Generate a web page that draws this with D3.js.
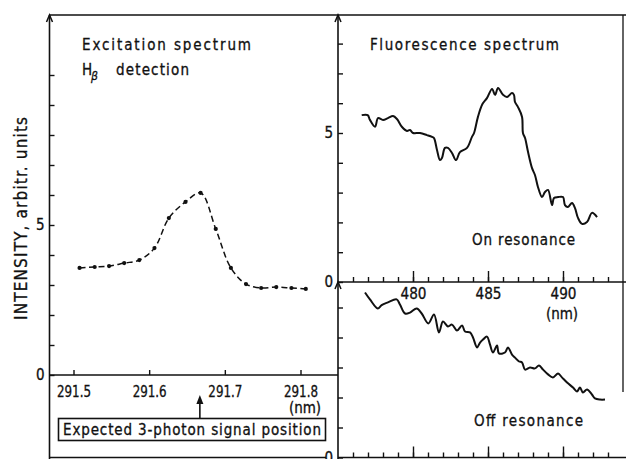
<!DOCTYPE html>
<html>
<head>
<meta charset="utf-8">
<script src="https://cdn.jsdelivr.net/npm/d3@7"></script>
<style>
  body { margin: 0; background: #fff; }
  svg { display: block; }
  text { font-family: "DejaVu Sans Condensed", "DejaVu Sans", sans-serif; fill: #111; stroke: #111; stroke-width: 0.3px; }
</style>
</head>
<body>
<div id="chart"></div>
<script>
// excitation spectrum (H-beta detection), dashed curve with dots
const excWavelength = [291.508, 291.528, 291.547, 291.567, 291.587, 291.607, 291.626, 291.648,
                       291.668, 291.688, 291.708, 291.728, 291.748, 291.768, 291.788, 291.807];
const excIntensity  = [3.57, 3.60, 3.63, 3.73, 3.83, 4.23, 5.23, 5.77,
                       6.07, 4.87, 3.57, 3.03, 2.90, 2.93, 2.90, 2.87];
const expectedPos = 291.667;
const excTicks = [291.5, 291.6, 291.7, 291.8];

// fluorescence spectrum, on resonance
const onWavelength = [476.58, 476.98, 477.13, 477.47, 477.67, 478.0, 478.33, 478.67, 478.93, 479.27,
  479.6, 479.8, 480.0, 480.47, 480.93, 481.27, 481.4, 481.6, 481.8, 481.93,
  482.13, 482.33, 482.6, 482.87, 483.13, 483.6, 483.93, 484.07, 484.33, 484.63,
  484.93, 485.27, 485.47, 485.67, 486.0, 486.27, 486.6, 486.73, 486.8, 487.0,
  487.27, 487.33, 487.47, 487.67, 487.93, 488.13, 488.33, 488.6, 488.8, 489.0,
  489.27, 489.4, 489.67, 490.0, 490.13, 490.33, 490.6, 490.8, 491.0, 491.27,
  491.6, 491.93, 492.27];
const onIntensity = [5.60, 5.60, 5.44, 5.21, 5.50, 5.44, 5.50, 5.57, 5.47, 5.20,
  5.07, 5.10, 5.00, 5.00, 4.93, 4.87, 4.83, 4.43, 4.09, 4.16,
  4.50, 4.50, 4.33, 4.09, 4.36, 4.50, 4.87, 5.00, 5.54, 5.97,
  6.17, 6.48, 6.28, 6.51, 6.28, 6.21, 6.34, 6.28, 6.04, 5.87,
  5.54, 5.00, 4.83, 4.36, 3.83, 3.59, 3.19, 2.85, 3.02, 3.09,
  2.58, 2.82, 2.85, 2.85, 2.58, 2.52, 2.65, 2.48, 2.15, 1.95,
  2.01, 2.32, 2.18];

// fluorescence spectrum, off resonance
const offWavelength = [476.8, 477.13, 477.65, 477.91, 478.33, 478.91, 479.13, 479.47, 479.8, 480.25,
  480.58, 481.02, 481.4, 481.73, 482.0, 482.33, 482.6, 482.93, 483.27, 483.47,
  483.8, 484.0, 484.27, 484.47, 484.67, 484.93, 485.13, 485.33, 485.6, 485.73,
  486.13, 486.33, 486.6, 486.8, 487.07, 487.27, 487.47, 487.8, 488.13, 488.4,
  488.67, 489.0, 489.33, 489.67, 489.93, 490.27, 490.67, 490.93, 491.13, 491.33,
  491.6, 491.93, 492.13, 492.47, 492.8];
const offIntensity = [5.50, 5.27, 4.97, 5.08, 5.17, 5.27, 5.10, 4.80, 4.83, 4.97,
  4.80, 4.47, 4.77, 4.17, 4.53, 4.37, 4.43, 4.23, 4.40, 4.20,
  4.17, 4.00, 3.67, 3.83, 3.93, 4.03, 3.77, 3.50, 3.73, 3.47,
  3.50, 3.67, 3.43, 3.33, 3.20, 3.17, 2.93, 3.00, 2.97, 3.07,
  2.93, 2.77, 2.67, 2.80, 2.67, 2.50, 2.33, 2.20, 2.33, 2.17,
  2.27, 2.10, 1.97, 1.93, 1.93];

const flMajorTicks = [480, 485, 490];
const flMinorTicks = d3.range(476, 494);

const width = 626, height = 459;
const ink = "#111";

const svg = d3.select("#chart").append("svg")
    .attr("width", width)
    .attr("height", height);
svg.append("rect").attr("width", width).attr("height", height).attr("fill", "#fff");

// scales
const xExc = d3.scaleLinear().domain([291.5, 291.8]).range([73.5, 300.5]);
const yExc = d3.scaleLinear().domain([0, 10]).range([375, 75]);
const xFl = d3.scaleLinear().domain([480, 490]).range([413, 563]);
const yOn = d3.scaleLinear().domain([0, 5]).range([282, 133]);
const yOff = d3.scaleLinear().domain([0, 5]).range([457.5, 307.5]);

// frame lines
function rule(x1, y1, x2, y2, w) {
    svg.append("line")
        .attr("x1", x1).attr("y1", y1).attr("x2", x2).attr("y2", y2)
        .attr("stroke", ink).attr("stroke-width", w || 1.6);
}
rule(49.5, 15, 626, 15);
rule(49.5, 15, 49.5, 459);
rule(49.5, 375, 338, 375);
rule(49.5, 457.5, 326, 457.5);
rule(338, 15, 338, 459);
rule(338, 282, 626, 282);
rule(338, 457.5, 626, 457.5);
rule(623, 15, 623, 392, 1.3);

// open arrow heads on the intensity axes
function caret(x, y) {
    svg.append("path")
        .attr("d", `M${x - 3},${y + 7}L${x},${y}L${x + 3},${y + 7}`)
        .attr("fill", "none").attr("stroke", ink).attr("stroke-width", 1.5);
}
caret(49.5, 15);
caret(338, 15);
caret(338, 282);

// axes
function styleAxis(g) {
    g.select(".domain").remove();
    g.selectAll(".tick line").attr("stroke", ink).attr("stroke-width", 1.4);
    g.selectAll(".tick text").attr("fill", ink).style("font-size", "15px").style("font-family", null);
}
const onlyLabel = vals => d => vals.includes(d) ? d : "";

svg.append("g").attr("transform", "translate(49.5,0)")
    .call(d3.axisLeft(yExc).tickValues(d3.range(0, 11)).tickSizeInner(-5).tickSizeOuter(0)
        .tickPadding(5).tickFormat(onlyLabel([0, 5])))
    .call(styleAxis);

svg.append("g").attr("transform", "translate(0,375)")
    .call(d3.axisBottom(xExc).tickValues(excTicks).tickSizeInner(-5).tickSizeOuter(0)
        .tickPadding(11).tickFormat(d3.format(".1f")))
    .call(styleAxis)
    .selectAll(".tick text")
    .attr("textLength", 34).attr("lengthAdjust", "spacingAndGlyphs");

svg.append("g").attr("transform", "translate(338,0)")
    .call(d3.axisLeft(yOn).tickValues(d3.range(0, 9)).tickSizeInner(-5).tickSizeOuter(0)
        .tickPadding(5).tickFormat(onlyLabel([0, 5])))
    .call(styleAxis);

svg.append("g").attr("transform", "translate(338,0)")
    .call(d3.axisLeft(yOff).tickValues(d3.range(0, 6)).tickSizeInner(-5).tickSizeOuter(0)
        .tickPadding(5).tickFormat(onlyLabel([0])))
    .call(styleAxis);

[282, 457.5].forEach((y, i) => {
    svg.append("g").attr("transform", `translate(0,${y})`)
        .call(d3.axisBottom(xFl).tickValues(flMinorTicks).tickSizeInner(-5).tickSizeOuter(0).tickFormat(""))
        .call(styleAxis);
    svg.append("g").attr("transform", `translate(0,${y})`)
        .call(d3.axisBottom(xFl).tickValues(flMajorTicks).tickSizeInner(-11).tickSizeOuter(0)
            .tickPadding(6).tickFormat(i === 0 ? d3.format("d") : ""))
        .call(styleAxis)
        .selectAll(".tick text")
        .attr("textLength", 26).attr("lengthAdjust", "spacingAndGlyphs");
});

// excitation curve: dashed smooth line through the measured dots
const excData = excWavelength.map((w, i) => ({ w: w, v: excIntensity[i] }));
svg.append("path")
    .datum(excData)
    .attr("d", d3.line().x(d => xExc(d.w)).y(d => yExc(d.v)).curve(d3.curveCatmullRom.alpha(0.5)))
    .attr("fill", "none").attr("stroke", ink).attr("stroke-width", 1.5)
    .attr("stroke-dasharray", "6,3.5");
svg.append("g").selectAll("circle")
    .data(excData)
    .enter()
    .append("circle")
    .attr("cx", d => xExc(d.w))
    .attr("cy", d => yExc(d.v))
    .attr("r", 2.1)
    .attr("fill", ink);

// fluorescence traces
const traceLine = d3.line().curve(d3.curveCatmullRom.alpha(0.5));
svg.append("path")
    .attr("d", traceLine(onWavelength.map((w, i) => [xFl(w), yOn(onIntensity[i])])))
    .attr("fill", "none").attr("stroke", ink).attr("stroke-width", 2).attr("stroke-linejoin", "round");
svg.append("path")
    .attr("d", traceLine(offWavelength.map((w, i) => [xFl(w), yOff(offIntensity[i])])))
    .attr("fill", "none").attr("stroke", ink).attr("stroke-width", 2).attr("stroke-linejoin", "round");

// texts
function label(x, y, str, size, len) {
    const t = svg.append("text").attr("x", x).attr("y", y).text(str).style("font-size", size + "px");
    if (len) t.attr("textLength", len).attr("lengthAdjust", "spacing");
    return t;
}
label(82, 50, "Excitation spectrum", 15, 169);
label(82, 75, "H", 15);
svg.append("text").attr("x", 91).attr("y", 80).text("\u03b2")
    .style("font-size", "12px").style("font-style", "italic");
label(116, 75, "detection", 15, 73);
label(370, 50, "Fluorescence spectrum", 15, 189);
label(472, 245, "On resonance", 15, 103);
label(474, 426, "Off resonance", 15, 109);

svg.append("text")
    .attr("transform", "translate(27,320) rotate(-90)")
    .attr("textLength", 203).attr("lengthAdjust", "spacing")
    .style("font-size", "17px")
    .text("INTENSITY, arbitr. units");

svg.append("text").attr("x", 305).attr("y", 413).attr("text-anchor", "middle")
    .style("font-size", "15px").text("(nm)");
svg.append("text").attr("x", 562).attr("y", 319).attr("text-anchor", "middle")
    .style("font-size", "15px").text("(nm)");

// expected 3-photon position: arrow and boxed note
const ax = xExc(expectedPos);
svg.append("line").attr("x1", ax).attr("y1", 402).attr("x2", ax).attr("y2", 418)
    .attr("stroke", ink).attr("stroke-width", 1.6);
svg.append("path").attr("d", `M${ax - 3.5},${404}L${ax},${395}L${ax + 3.5},${404}Z`).attr("fill", ink);
svg.append("rect").attr("x", 58.5).attr("y", 418.5).attr("width", 267).attr("height", 22)
    .attr("fill", "none").attr("stroke", ink).attr("stroke-width", 1.6);
label(63, 435, "Expected 3-photon signal position", 15, 258);
</script>
</body>
</html>
